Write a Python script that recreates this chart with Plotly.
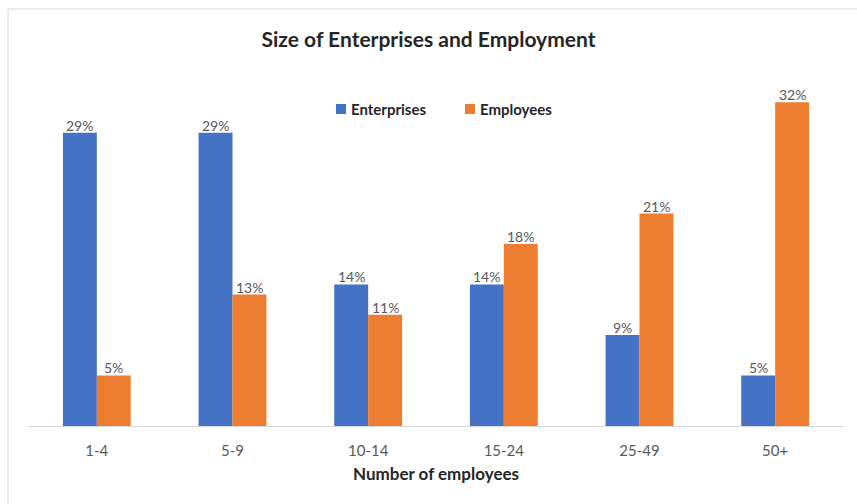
import plotly.graph_objects as go

categories = ["1-4", "5-9", "10-14", "15-24", "25-49", "50+"]
enterprises = [29, 29, 14, 14, 9, 5]
employees = [5, 13, 11, 18, 21, 32]

BLUE = "#4472C4"
ORANGE = "#ED7D31"
FONT = "Lato, 'Noto Sans', sans-serif"

W, H = 857, 504
L, R, T, B = 29, 14, 72, 78
plot_w = W - L - R
plot_h = H - T - B
BAR_SHIFT = plot_w / len(categories) * 0.125  # half a bar width, in px


def px_to_paper_x(px):
    return (px - L) / plot_w


def px_to_paper_y(py):
    return (H - B - py) / plot_h


series = [("Enterprises", enterprises, BLUE, -BAR_SHIFT),
          ("Employees", employees, ORANGE, BAR_SHIFT)]

fig = go.Figure()
annotations = []
for name, vals, color, shift in series:
    fig.add_trace(go.Bar(
        name=name, x=categories, y=vals,
        marker=dict(color=color, line=dict(width=0)),
        showlegend=False,
    ))
    for cat, v in zip(categories, vals):
        annotations.append(dict(
            x=cat, y=v, xref="x", yref="y", text=f"{v}%",
            showarrow=False, xanchor="center", yanchor="bottom",
            xshift=shift, yshift=-3,
            font=dict(family=FONT, size=14, color="#595959"),
        ))

# legend drawn as swatches + labels
shapes = []
legend_items = [("Enterprises", BLUE, 336), ("Employees", ORANGE, 465)]
for name, color, x0 in legend_items:
    shapes.append(dict(type="rect", xref="paper", yref="paper",
                       x0=px_to_paper_x(x0), x1=px_to_paper_x(x0 + 10),
                       y0=px_to_paper_y(114), y1=px_to_paper_y(104),
                       fillcolor=color, line=dict(width=0)))
    annotations.append(dict(
        x=px_to_paper_x(x0 + 13), y=px_to_paper_y(109), xref="paper", yref="paper",
        text=f"<b>{name}</b>", showarrow=False, xanchor="left", yanchor="middle",
        font=dict(family=FONT, size=15, color="#262626"),
    ))

shapes.append(dict(type="rect", xref="paper", yref="paper",
                   x0=px_to_paper_x(8), x1=px_to_paper_x(W + 20),
                   y0=px_to_paper_y(H + 20), y1=px_to_paper_y(9),
                   line=dict(color="#d9d9d9", width=1), layer="below"))

fig.update_layout(
    width=W, height=H,
    margin=dict(l=L, r=R, t=T, b=B),
    paper_bgcolor="white", plot_bgcolor="white",
    barmode="group", bargap=0.5, bargroupgap=0,
    showlegend=False,
    title=dict(text="<b>Size of Enterprises and Employment</b>",
               x=0.5, xanchor="center", y=1 - 40 / H, yanchor="middle",
               font=dict(family=FONT, size=21, color="#262626")),
    xaxis=dict(showline=True, linecolor="#d9d9d9", linewidth=1,
               ticks="", showgrid=False, ticklabelstandoff=11,
               tickfont=dict(family=FONT, size=15, color="#595959"),
               title=dict(text="<b>Number of employees</b>",
                          font=dict(family=FONT, size=17, color="#262626"),
                          standoff=10)),
    yaxis=dict(range=[0, 35], visible=False, showgrid=False, zeroline=False),
    shapes=shapes,
    annotations=annotations,
)

fig.write_html("out.html")
